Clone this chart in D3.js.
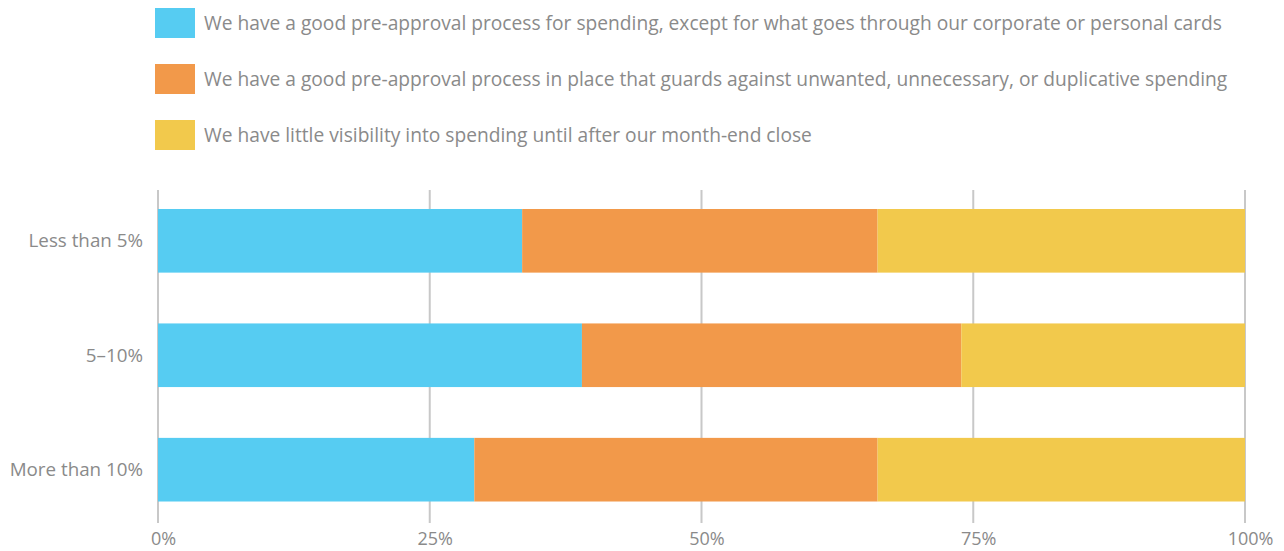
<!DOCTYPE html>
<html>
<head>
<meta charset="utf-8">
<script src="https://cdn.jsdelivr.net/npm/d3@7"></script>
<style>
    body { margin: 0; background: #fff; }
    text { font-family: "Open Sans", "Lato", sans-serif; fill: #8a8a8a; }
</style>
</head>
<body>
<svg id="chart" width="1284" height="551"></svg>
<script>
// answer categories (legend order)
const series = [
    "We have a good pre-approval process for spending, except for what goes through our corporate or personal cards",
    "We have a good pre-approval process in place that guards against unwanted, unnecessary, or duplicative spending",
    "We have little visibility into spending until after our month-end close"
];
const colors = ["#56ccf2", "#f2994a", "#f2c94c"];

const categories = ["Less than 5%", "5–10%", "More than 10%"];
const preApprovalExceptCards = [33.5, 39.0, 29.1];
const preApprovalGuards = [32.7, 34.9, 37.1];
const littleVisibility = [33.8, 26.1, 33.8];

const xTicks = [0, 25, 50, 75, 100];

const svg = d3.select("#chart");

const x = d3.scaleLinear().domain([0, 100]).range([158, 1245]);
const y = d3.scaleBand().domain(categories).range([190, 520.5]).paddingInner(0.444).paddingOuter(0.166);

// legend
const legend = svg.append("g");
series.forEach(function (s, i) {
    legend.append("rect")
        .attr("x", 155)
        .attr("y", 8 + 56 * i)
        .attr("width", 40)
        .attr("height", 30)
        .attr("fill", colors[i]);
    legend.append("text")
        .attr("x", 204)
        .attr("y", 23 + 56 * i)
        .attr("dy", "0.35em")
        .style("font-size", "19.2px")
        .text(s);
});

// gridlines
svg.append("g").selectAll("line")
    .data(xTicks)
    .join("line")
    .attr("x1", d => x(d))
    .attr("x2", d => x(d))
    .attr("y1", 190)
    .attr("y2", 523)
    .attr("stroke", "#c8c8c8")
    .attr("stroke-width", 2);

// stacked bars
const rows = categories.map(function (c, i) {
    return { cat: c, vals: [preApprovalExceptCards[i], preApprovalGuards[i], littleVisibility[i]] };
});
const stack = d3.stack().keys([0, 1, 2]).value((d, k) => d.vals[k]);
const layers = stack(rows);

svg.append("g").selectAll("g")
    .data(layers)
    .join("g")
    .attr("fill", (d, i) => colors[i])
    .selectAll("rect")
    .data(d => d)
    .join("rect")
    .attr("x", d => x(d[0]))
    .attr("y", d => y(d.data.cat))
    .attr("width", d => x(d[1]) - x(d[0]))
    .attr("height", y.bandwidth());

// category labels
svg.append("g").selectAll("text")
    .data(categories)
    .join("text")
    .attr("x", 143)
    .attr("y", d => y(d) + y.bandwidth() / 2)
    .attr("dy", "0.35em")
    .attr("text-anchor", "end")
    .style("font-size", "18.8px")
    .text(d => d);

// x axis labels
const xAxis = d3.axisBottom(x).tickValues(xTicks).tickFormat(d => d + "%").tickSize(0);
const ax = svg.append("g")
    .attr("transform", "translate(5,528)")
    .call(xAxis);
ax.select(".domain").remove();
ax.selectAll("text")
    .attr("dy", "0.8em")
    .style("font-size", "18px")
    .style("font-family", null)
    .attr("fill", null);
</script>
</body>
</html>
